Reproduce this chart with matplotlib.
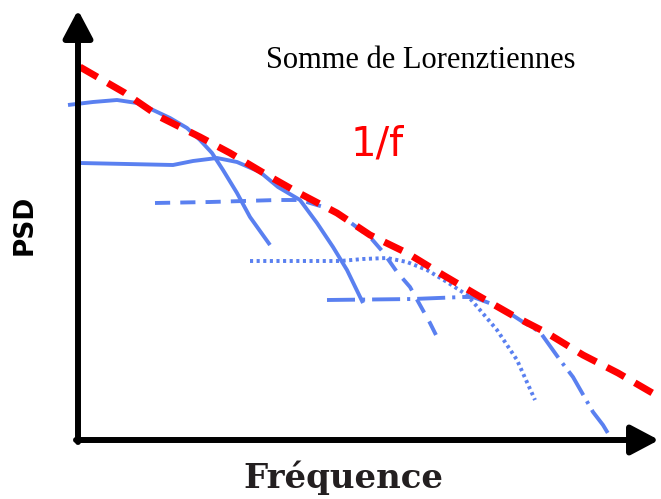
import matplotlib
matplotlib.use('Agg')
from matplotlib import pyplot as plt
import numpy as np

## origin of the drawn axes (pixels in the picture)
X0, Y0 = 78, 440

## 1/f line
f_x = [80, 125, 160, 200, 230, 267, 297, 337, 370, 407, 443, 477, 512, 547, 583, 618, 661]
f_y = [67, 93, 117, 137, 153, 175, 192, 213, 235, 253, 275, 295, 315, 333, 355, 373, 398]

## lorentzian 1 (solid)
l1_x = [68, 93, 117, 137, 153, 170, 187, 200, 212, 223, 237, 250, 270]
l1_y = [105, 102, 100, 103, 110, 118, 128, 140, 153, 170, 193, 217, 245]

## lorentzian 2 (solid)
l2_x = [80, 127, 173, 193, 217, 237, 260, 278, 300, 317, 333, 347, 363]
l2_y = [163, 164, 165, 161, 158, 162, 172, 187, 200, 223, 247, 270, 303]

## lorentzian 3 (dashed)
l3_x = [155, 210, 277, 300, 327, 347, 370, 383, 397, 410, 430, 440]
l3_y = [203, 202, 200, 200, 208, 220, 237, 252, 272, 287, 323, 343]

## lorentzian 4 (dotted)
l4_x = [250, 300, 340, 363, 387, 407, 427, 447, 467, 480, 497, 517, 535]
l4_y = [261, 261, 261, 259, 258, 262, 270, 282, 295, 310, 330, 360, 400]

## lorentzian 5 (dash-dot)
l5_x = [327, 413, 463, 473, 500, 523, 540, 560, 573, 593, 603, 612]
l5_y = [300, 299, 297, 297, 307, 322, 332, 360, 377, 412, 425, 440]

blue = '#5a80f0'
red = '#ff0000'
lw = 2.8

fig = plt.figure(figsize=(6.61, 4.99), dpi=100)
ax = fig.add_axes([0, 0, 1, 1])
ax.set_xlim(-X0, 661 - X0)
ax.set_ylim(Y0 - 499, Y0)
ax.axis('off')

def conv(xs, ys):
	return np.array(xs) - X0, Y0 - np.array(ys)

## curves
x, y = conv(l1_x, l1_y)
ax.plot(x, y, color=blue, lw=lw, solid_capstyle='butt', solid_joinstyle='round')
x, y = conv(l2_x, l2_y)
ax.plot(x, y, color=blue, lw=lw, solid_capstyle='butt', solid_joinstyle='round')
x, y = conv(l3_x, l3_y)
ax.plot(x, y, color=blue, lw=lw, dashes=(3.9, 2.6))
x, y = conv(l4_x, l4_y)
ax.plot(x, y, color=blue, lw=lw, dashes=(0.8, 0.9))
x, y = conv(l5_x, l5_y)
ax.plot(x, y, color=blue, lw=lw, dashes=(7.2, 1.8, 0.8, 1.8))
x, y = conv(f_x, f_y)
ax.plot(x, y, color=red, lw=5, dashes=(2.9, 1.7))

## axes with arrows
head = '-|>,head_length=0.85,head_width=0.45'
ax.annotate('', xy=(0, Y0 - 10), xytext=(0, -2),
	arrowprops=dict(arrowstyle=head, lw=4.3, color='black', mutation_scale=20,
		shrinkA=0, shrinkB=0))
ax.annotate('', xy=(659 - X0, 0), xytext=(-2, 0),
	arrowprops=dict(arrowstyle=head, lw=4.3, color='black', mutation_scale=20,
		shrinkA=0, shrinkB=0))

## texts
ax.text(421 - X0, Y0 - 68, 'Somme de Lorenztiennes', family='Liberation Serif',
	fontsize=22, ha='center', va='baseline')
ax.text(377 - X0, Y0 - 155, '1/f', color=red, fontsize=29,
	ha='center', va='baseline')
ax.text(25 - X0, Y0 - 225, 'PSD', rotation=90, fontsize=19, fontweight='bold',
	ha='center', va='center')
ax.text(343 - X0, Y0 - 488, 'Fréquence', family='DejaVu Serif', fontsize=24.5,
	fontweight='bold', ha='center', va='baseline', color='#231f20')

fig.savefig('out.png', dpi=100)
